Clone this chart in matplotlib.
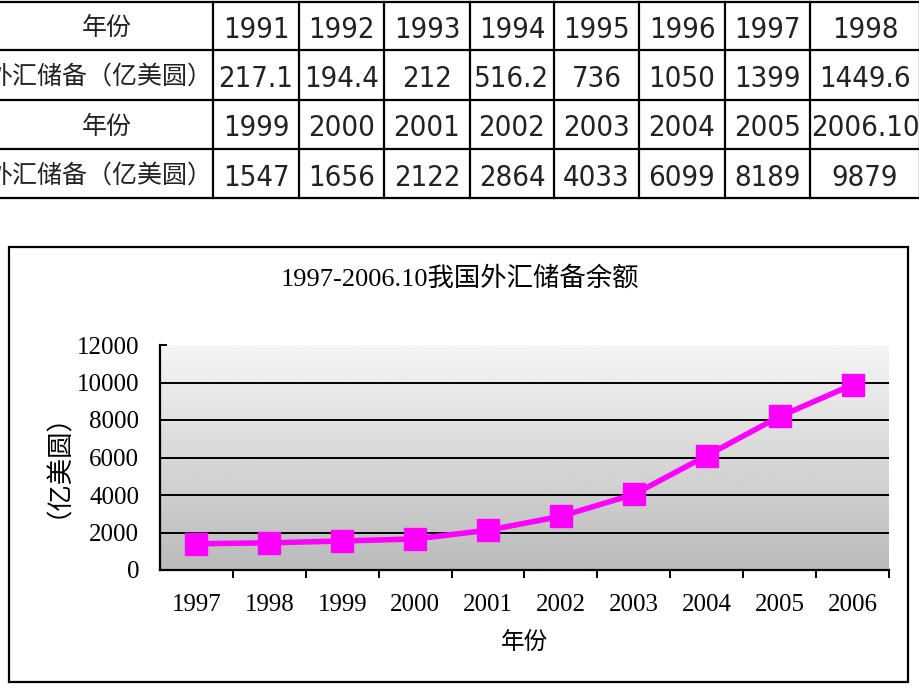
import numpy as np
import matplotlib
matplotlib.use('Agg')
import matplotlib.pyplot as plt
from matplotlib import font_manager as fm
from matplotlib.lines import Line2D
from matplotlib.patches import Rectangle

# table data
years1 = ['1991', '1992', '1993', '1994', '1995', '1996', '1997', '1998']
reserves1 = ['217.1', '194.4', '212', '516.2', '736', '1050', '1399', '1449.6']
years2 = ['1999', '2000', '2001', '2002', '2003', '2004', '2005', '2006.10']
reserves2 = ['1547', '1656', '2122', '2864', '4033', '6099', '8189', '9879']

# chart data
chart_years = ['1997', '1998', '1999', '2000', '2001', '2002', '2003', '2004', '2005', '2006']
chart_values = [1399, 1449.6, 1547, 1656, 2122, 2864, 4033, 6099, 8189, 9879]

W, H = 920, 690
fig = plt.figure(figsize=(9.2, 6.9), dpi=100)


def fx(px):
    return px / W


def fy(py):
    return 1 - py / H


# look for a narrow sans font for the table digits
narrow_font = None
for f in fm.fontManager.ttflist:
    if f.stretch in ('condensed', 'semi-condensed', 'extra-condensed') and 'Serif' not in f.name \
            and f.weight in (400, 'normal', 'regular', 'book'):
        narrow_font = f
        break
if narrow_font is not None:
    num_props = dict(family=[narrow_font.name, 'DejaVu Sans'], stretch=narrow_font.stretch, fontsize=21)
else:
    num_props = dict(family=['DejaVu Sans'], fontsize=17)

cjk_sans = ['Noto Sans CJK SC', 'DejaVu Sans']
serif = ['Liberation Serif', 'Noto Sans CJK SC']

# ---- table on top ----
col_edges = [0, 213, 299, 384, 470, 554, 639, 725, 810, 920]
row_edges = [2, 50, 100, 149, 198]

for y in row_edges:
    fig.add_artist(Line2D([0, 1], [fy(y), fy(y)], color='black', lw=1.6,
                          transform=fig.transFigure))
for x in col_edges[1:]:
    fig.add_artist(Line2D([fx(x), fx(x)], [fy(row_edges[0]), fy(row_edges[-1])],
                          color='black', lw=1.6, transform=fig.transFigure))

rows = [('年份', years1), ('外汇储备（亿美圆）', reserves1),
        ('年份', years2), ('外汇储备（亿美圆）', reserves2)]
for i, (label, vals) in enumerate(rows):
    yc = (row_edges[i] + row_edges[i + 1]) / 2 + 2
    if label == '年份':
        fig.text(fx(107), fy(yc), label, ha='center', va='center',
                 fontsize=18, family=cjk_sans, color='#222222')
    else:
        fig.text(fx(212), fy(yc), label, ha='right', va='center',
                 fontsize=18, family=cjk_sans, color='#222222')
    for j, v in enumerate(vals):
        xc = (col_edges[j + 1] + col_edges[j + 2]) / 2
        fig.text(fx(xc), fy(yc + 2), v, ha='center', va='center',
                 color='#222222', **num_props)

# ---- chart ----
fig.patches.append(Rectangle((fx(9), fy(682)), (908 - 9) / W, (682 - 247) / H,
                             transform=fig.transFigure, fill=False,
                             ec='black', lw=1.6))

ax = fig.add_axes([fx(160), fy(570), 729 / W, 225 / H])
grad = np.linspace(0.96, 0.73, 256).reshape(-1, 1)
ax.imshow(grad, extent=[0, 1, 0, 1], transform=ax.transAxes, aspect='auto',
          cmap='gray', vmin=0, vmax=1, zorder=0)

x = np.arange(len(chart_values))
ax.plot(x, chart_values, color='#ff00ff', lw=4, marker='s', ms=16, zorder=3)

ax.set_xlim(-0.5, len(chart_values) - 0.5)
ax.set_ylim(0, 12000)
yticks = list(range(0, 12001, 2000))
ax.set_yticks(yticks)
for v in yticks[1:-1]:
    ax.axhline(v, color='black', lw=1.4, zorder=1)

ax.set_xticks(x)
ax.set_xticklabels(chart_years)
ax.set_xticks(np.arange(0.5, len(chart_values)), minor=True)
ax.tick_params(axis='x', which='major', length=0, pad=17, labelsize=18)
ax.tick_params(axis='x', which='minor', length=6, width=1.4, direction='out')
ax.tick_params(axis='y', length=5, width=1.4, direction='in', pad=15, labelsize=18)
for lab in ax.get_xticklabels() + ax.get_yticklabels():
    lab.set_family(serif)

for s in ['top', 'right']:
    ax.spines[s].set_visible(False)
for s in ['left', 'bottom']:
    ax.spines[s].set_linewidth(1.6)

fig.text(fx(460), fy(278), '1997-2006.10我国外汇储备余额', ha='center', va='center',
         fontsize=19, family=serif)
fig.text(fx(45), fy(452), '（亿美圆）', rotation=90, ha='center', va='center',
         fontsize=19, family=cjk_sans)
fig.text(fx(525), fy(643), '年份', ha='center', va='center',
         fontsize=17, family=serif)

fig.savefig('out.png', dpi=100)
